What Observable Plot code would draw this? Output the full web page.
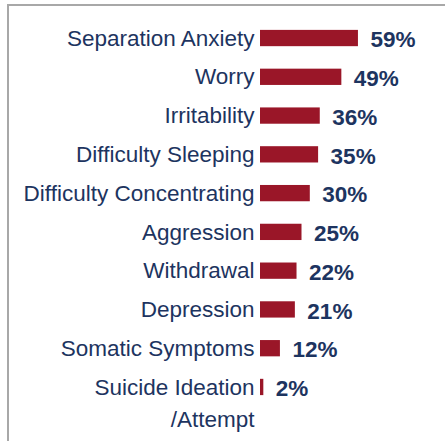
<!DOCTYPE html>
<html><head><meta charset="utf-8">
<script src="https://cdn.jsdelivr.net/npm/d3@7"></script>
<script src="https://cdn.jsdelivr.net/npm/@observablehq/plot@0.6"></script>
<style>
body{margin:0;background:#fff}
#wrap{position:relative;width:445px;height:441px;overflow:hidden}
#frame{position:absolute;left:7px;top:4px;right:-4px;bottom:-4px;border-left:2px solid #a8a8a8;border-top:2px solid #a8a8a8;pointer-events:none}
svg{display:block}
</style>
</head><body>
<div id="wrap"><div id="frame"></div></div>
<script>
const categories = ["Separation Anxiety","Worry","Irritability","Difficulty Sleeping","Difficulty Concentrating","Aggression","Withdrawal","Depression","Somatic Symptoms","Suicide Ideation\n/Attempt"];
const values = [59,49,36,35,30,25,22,21,12,2];
const valueLabels = ["59%","49%","36%","35%","30%","25%","22%","21%","12%","2%"];

const data = categories.map((c,i)=>({cat:c, value:values[i], label:valueLabels[i]}));
const navy = "#1d3460";
const red = "#9a1628";

const chart = Plot.plot({
  width: 445,
  height: 441,
  marginLeft: 260,
  marginRight: 19,
  marginTop: 7.4,
  marginBottom: 23.4,
  style: {fontFamily: "'Liberation Sans', Arial, sans-serif", background: "transparent"},
  x: {domain: [0, 100], axis: null},
  y: {domain: categories, padding: 0.58, round: false, axis: null},
  marks: [
    Plot.barX(data, {x: "value", y: "cat", fill: red}),
    Plot.text(data, {x: 0, y: "cat", text: "cat", textAnchor: "end", dx: -6, lineAnchor: "top", lineHeight: 1.42, dy: -15.5, fontSize: 22.5, fill: navy}),
    Plot.text(data, {x: "value", y: "cat", text: "label", textAnchor: "start", dx: 12, dy: 1.5, fontSize: 22.5, fontWeight: "bold", fill: navy})
  ]
});
document.getElementById("wrap").prepend(chart);
</script>
</body></html>
